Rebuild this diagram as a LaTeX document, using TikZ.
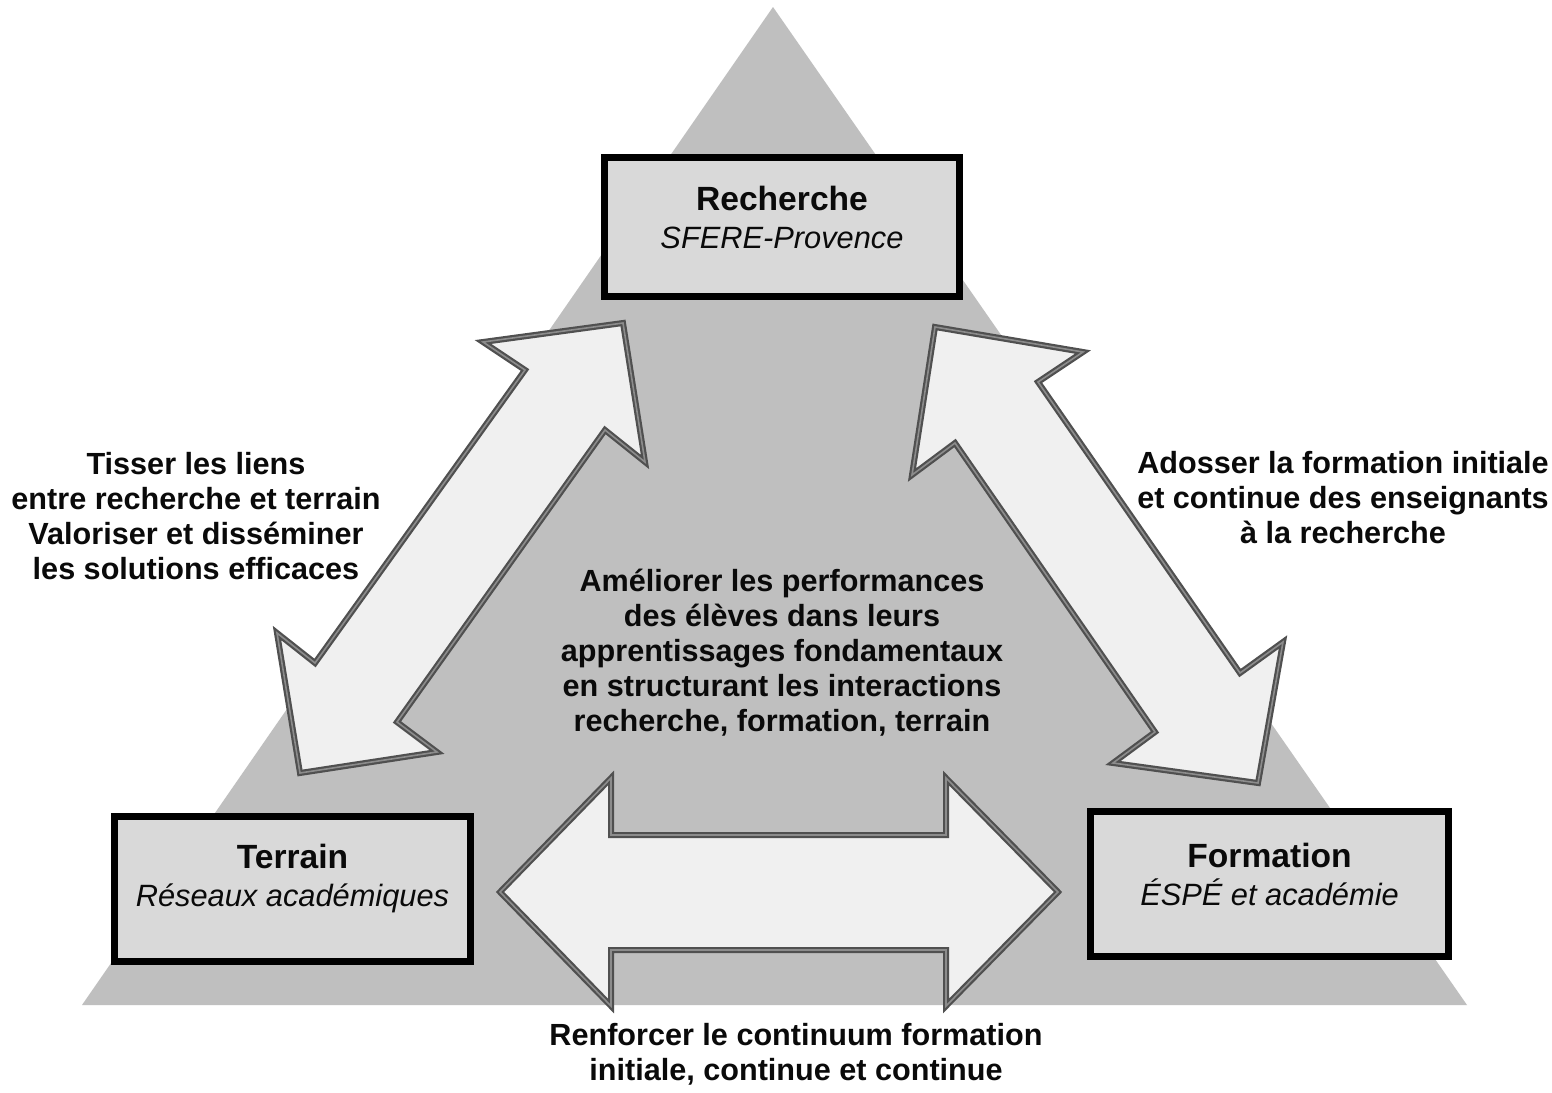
\documentclass[tikz,border=0pt]{standalone}
\usepackage{fontspec}
\setmainfont{Liberation Sans}
\definecolor{trigray}{HTML}{BFBFBF}
\definecolor{boxgray}{HTML}{D9D9D9}
\definecolor{arrowfill}{HTML}{F0F0F0}
\definecolor{arrowline}{HTML}{505050}
\definecolor{arrowmid}{HTML}{8C8C8C}
\definecolor{textblack}{HTML}{0A0A0A}
\begin{document}
\begin{tikzpicture}[x=0.5pt,y=-0.5pt,
  triangle/.style={fill=trigray, draw=none},
  entitybox/.style={draw=black, line width=3.5pt, fill=boxgray, inner sep=0pt},
  entitytext/.style={align=center, inner sep=0pt, text=textblack,
    font=\fontsize{15.4pt}{19pt}\selectfont},
  blockarrow/.style={fill=arrowfill, draw=arrowline, line width=1.1pt,
    double=arrowmid, double distance=0.8pt, line join=miter},
  bodytext/.style={align=center, inner sep=0pt, text=textblack,
    font=\fontsize{15.3pt}{17.5pt}\selectfont\bfseries}]
\useasboundingbox[fill=white] (0,0) rectangle (1552,1092);
% background triangle
\fill[triangle] (773,7) -- (1467,1005) -- (82,1005) -- cycle;
% block arrows
\draw[blockarrow] (623,323) -- (483,342) -- (525,370) -- (315,663) -- (277,633)
  -- (300,773) -- (437,752) -- (397,722) -- (605,430) -- (645,462) -- cycle;
\draw[blockarrow] (935,327) -- (1083,352) -- (1038,382) -- (1240,673) -- (1283,642)
  -- (1258,783) -- (1113,763) -- (1155,732) -- (955,443) -- (912,475) -- cycle;
\draw[blockarrow] (500,892) -- (611,778) -- (611,835) -- (946,835) -- (946,778)
  -- (1058,892) -- (946,1006) -- (946,950) -- (611,950) -- (611,1006) -- cycle;
% entity boxes
\node[entitybox, minimum width=177.5pt, minimum height=69.5pt] (rech) at (782,227) {};
\node[entitybox, minimum width=178pt, minimum height=72.5pt] (terr) at (292.5,889) {};
\node[entitybox, minimum width=179pt, minimum height=72.5pt] (form) at (1269.5,884) {};
\node[entitytext] (rechT) at ([yshift=5pt]rech.center)
  {{\fontsize{16.8pt}{19pt}\selectfont\bfseries Recherche}\\{\itshape SFERE-Provence}};
\node[entitytext] (terrT) at ([yshift=5pt]terr.center)
  {{\fontsize{16.8pt}{19pt}\selectfont\bfseries Terrain}\\{\itshape Réseaux académiques}};
\node[entitytext] (formT) at ([yshift=5pt]form.center)
  {{\fontsize{16.8pt}{19pt}\selectfont\bfseries Formation}\\{\itshape ÉSPÉ et académie}};
% labels
\node[bodytext] (left) at (196,516) {Tisser les liens\\entre recherche et terrain\\Valoriser et disséminer\\les solutions efficaces};
\node[bodytext] (right) at (1343,498) {Adosser la formation initiale\\et continue des enseignants\\à la recherche};
\node[bodytext] (center) at (782,653) {Améliorer les performances\\des élèves dans leurs\\apprentissages fondamentaux\\en structurant les interactions\\recherche, formation, terrain};
\node[bodytext] (bottom) at (796,1054) {Renforcer le continuum formation\\initiale, continue et continue};
\end{tikzpicture}
\end{document}
